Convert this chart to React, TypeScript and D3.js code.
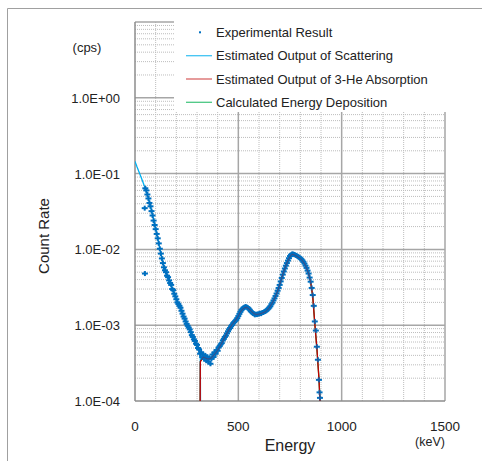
import React from "react";
import * as d3 from "d3";

// ---------- data ----------
const expEnergy: number[] = [
  47, 48, 50, 55, 60, 65, 70, 75, 80, 85, 90, 95, 100, 105, 110, 115, 120, 125, 130, 135,
  140, 145, 150, 155, 160, 165, 170, 175, 180, 185, 190, 195, 200, 205, 210, 215, 220, 225,
  230, 235, 240, 245, 250, 255, 260, 265, 270, 275, 280, 285, 290, 295, 300, 305, 310, 315,
  320, 325, 330, 335, 340, 345, 350, 355, 360, 365, 370, 375, 380, 385, 390, 395, 400, 405,
  410, 415, 420, 425, 430, 435, 440, 445, 450, 455, 460, 465, 470, 475, 480, 485, 490, 495,
  500, 505, 510, 515, 520, 525, 530, 535, 540, 545, 550, 555, 560, 565, 570, 575, 580, 585,
  590, 595, 600, 605, 610, 615, 620, 625, 630, 635, 640, 645, 650, 655, 660, 665, 670, 675,
  680, 685, 690, 695, 700, 705, 710, 715, 720, 725, 730, 735, 740, 745, 750, 755, 760, 765,
  770, 775, 780, 785, 790, 795, 800, 805, 810, 815, 820, 825, 830, 835, 840, 845, 850, 855,
  860, 865, 870, 875, 880, 885, 890, 893, 895,
];
const expRate: number[] = [
  0.035, 0.0048, 0.064, 0.06, 0.053, 0.047, 0.041, 0.037, 0.032, 0.028, 0.024, 0.021, 0.0185,
  0.016, 0.014, 0.012, 0.0102, 0.0088, 0.0076, 0.0066, 0.0058, 0.0053, 0.005, 0.0045, 0.0043,
  0.0039, 0.0036, 0.0034, 0.003, 0.0029, 0.0026, 0.0024, 0.0022, 0.002, 0.0019, 0.0018,
  0.0017, 0.00155, 0.00142, 0.0013, 0.00122, 0.00112, 0.00104, 0.00098, 0.00093, 0.00088,
  0.00081, 0.00074, 0.0007, 0.00065, 0.00062, 0.00057, 0.00055, 0.0005, 0.00048, 0.00042,
  0.00044, 0.00038, 0.00041, 0.00036, 0.0004, 0.00034, 0.00038, 0.00033, 0.00037, 0.00031,
  0.00036, 0.00041, 0.00038, 0.00044, 0.00042, 0.00047, 0.00046, 0.00051, 0.00053, 0.00056,
  0.00058, 0.00063, 0.00066, 0.0007, 0.00073, 0.00078, 0.00083, 0.00088, 0.00092, 0.00097,
  0.00101, 0.00106, 0.0011, 0.00114, 0.00118, 0.00124, 0.00132, 0.00141, 0.0015, 0.00158,
  0.00164, 0.0017, 0.00173, 0.00176, 0.00174, 0.00171, 0.00166, 0.0016, 0.00153, 0.00149,
  0.00144, 0.00141, 0.00137, 0.0014, 0.00138, 0.00141, 0.0014, 0.00144, 0.00142, 0.00146,
  0.00147, 0.0015, 0.00152, 0.00155, 0.0016, 0.00165, 0.00171, 0.00178, 0.00189, 0.00198,
  0.00212, 0.00226, 0.00243, 0.00262, 0.00285, 0.0031, 0.0034, 0.00378, 0.0042, 0.00465,
  0.00512, 0.0056, 0.0061, 0.0066, 0.00712, 0.00765, 0.00815, 0.0085, 0.0087, 0.00868,
  0.00858, 0.00845, 0.00832, 0.00818, 0.008, 0.00785, 0.00765, 0.00742, 0.00715, 0.00685,
  0.0065, 0.0061, 0.0057, 0.00525, 0.0048, 0.00425, 0.00375, 0.0031, 0.0025, 0.0018, 0.00112,
  0.00085, 0.00052, 0.00035, 0.00019, 0.00013, 0.00011,
];

const scatEnergy: number[] = [
  0, 10, 20, 30, 40, 50, 60, 70, 80, 90, 100, 110, 120, 130, 140, 150, 160, 170, 180, 190,
  200, 210, 220, 230, 240, 250, 260, 270, 280, 290, 300, 310, 316, 320,
];
const scatRate: number[] = [
  0.145, 0.122, 0.104, 0.089, 0.075, 0.063, 0.052, 0.042, 0.033, 0.025, 0.019, 0.014, 0.0103,
  0.0077, 0.006, 0.0049, 0.0042, 0.0036, 0.0031, 0.0026, 0.0022, 0.0019, 0.0017, 0.00145,
  0.00125, 0.00108, 0.00095, 0.00082, 0.0007, 0.00062, 0.00055, 0.00049, 0.00042, 0.000001,
];

const absEnergy: number[] = [
  313, 316, 330, 340, 350, 360, 370, 380, 390, 400, 410, 420, 430, 440, 450, 460, 470, 480,
  490, 500, 510, 520, 530, 540, 550, 560, 570, 580, 590, 600, 610, 620, 630, 640, 650, 660,
  670, 680, 690, 700, 710, 720, 730, 740, 750, 760, 770, 780, 790, 800, 810, 820, 830, 840,
  850, 860, 870, 880, 890, 896, 900,
];
const absRate: number[] = [
  0.000001, 0.00033, 0.00038, 0.00037, 0.00036, 0.00036, 0.00037, 0.0004, 0.00043, 0.00047,
  0.00052, 0.00058, 0.00066, 0.00074, 0.00083, 0.00093, 0.00102, 0.0011, 0.0012, 0.00132,
  0.0015, 0.00163, 0.0017, 0.00172, 0.00166, 0.00155, 0.00146, 0.0014, 0.00139, 0.0014,
  0.00143, 0.00146, 0.0015, 0.00158, 0.0017, 0.00188, 0.0021, 0.0024, 0.0028, 0.0034, 0.0042,
  0.0051, 0.0061, 0.0071, 0.0081, 0.0086, 0.0085, 0.0082, 0.0079, 0.0076, 0.0071, 0.0065,
  0.0057, 0.0048, 0.0037, 0.0024, 0.00105, 0.0005, 0.0002, 0.00009, 0.000001,
];

// calculated energy deposition: hidden under the absorption curve in the reference
const depEnergy: number[] = absEnergy;
const depRate: number[] = absRate;

const xTicks: number[] = [0, 500, 1000, 1500];
const yTicks: number[] = [1e-4, 1e-3, 1e-2, 1e-1, 1e0];
const yTickLabels: string[] = ["1.0E-04", "1.0E-03", "1.0E-02", "1.0E-01", "1.0E+00"];
const legendLabels: string[] = [
  "Experimental Result",
  "Estimated Output of Scattering",
  "Estimated Output of 3-He Absorption",
  "Calculated Energy Deposition",
];

// ---------- layout ----------
const W = 482;
const H = 461;
const L = 135;
const R = 445;
const T = 22;
const B = 401;
const FONT = "'Liberation Sans', Arial, sans-serif";
const C_EXP = "#0070C0";
const C_SCAT = "#00B0F0";
const C_ABS = "#C00000";
const C_DEP = "#00B050";
const GRID_MAJOR = "#a6a6a6";
const GRID_MINOR = "#bdbdbd";

export default function App() {
  const x = d3.scaleLinear().domain([0, 1500]).range([L, R]);
  const y = d3.scaleLog().domain([1e-4, 10]).range([B, T]);

  const line = d3
    .line<[number, number]>()
    .x((d) => x(d[0]))
    .y((d) => y(d[1]));

  const zip = (a: number[], b: number[]) => a.map((v, i) => [v, b[i]] as [number, number]);

  const minorY: number[] = [];
  for (let e = -4; e <= 0; e++) for (let k = 2; k <= 9; k++) minorY.push(k * Math.pow(10, e));
  const majorY = [1e-3, 1e-2, 1e-1, 1e0, 1e1];
  const minorX = d3.range(100, 1500, 100).filter((v) => v % 500 !== 0);
  const majorX = [500, 1000, 1500];

  const legendY = [32.3, 55.7, 79, 102.3];

  return (
    <svg
      width={W}
      height={H}
      style={{ position: "absolute", left: 0, top: 0, background: "#fff" }}
      fontFamily={FONT}
    >
      <defs>
        <clipPath id="plotClip">
          <rect x={L} y={T} width={R - L} height={B - T} />
        </clipPath>
      </defs>
      <rect width={W} height={H} fill="#fff" />
      {/* outer frame */}
      <line x1={7.5} x2={W} y1={8.5} y2={8.5} stroke="#a0a0a0" strokeWidth={1} />
      <line x1={7.5} x2={7.5} y1={8.5} y2={H} stroke="#a0a0a0" strokeWidth={1} />

      {/* minor grid */}
      {minorY.map((v) => (
        <line key={"my" + v} x1={L} x2={R} y1={y(v)} y2={y(v)} stroke={GRID_MINOR} strokeWidth={1} strokeDasharray="1,1" />
      ))}
      {minorX.map((v) => (
        <line key={"mx" + v} x1={x(v)} x2={x(v)} y1={T} y2={B} stroke={GRID_MINOR} strokeWidth={1} strokeDasharray="1,1" />
      ))}
      {/* major grid */}
      {majorY.map((v) => (
        <line key={"My" + v} x1={L} x2={R} y1={y(v)} y2={y(v)} stroke={GRID_MAJOR} strokeWidth={1.5} />
      ))}
      {majorX.map((v) => (
        <line key={"Mx" + v} x1={x(v)} x2={x(v)} y1={T} y2={B} stroke={GRID_MAJOR} strokeWidth={1.5} />
      ))}
      {/* axes */}
      <line x1={L} x2={L} y1={T} y2={B} stroke="#8c8c8c" strokeWidth={1.5} />
      <line x1={L} x2={R} y1={B} y2={B} stroke="#8c8c8c" strokeWidth={1.5} />

      {/* series */}
      <g clipPath="url(#plotClip)">
        <path d={line(zip(depEnergy, depRate)) || ""} fill="none" stroke={C_DEP} strokeWidth={1.3} />
        <path d={line(zip(scatEnergy, scatRate)) || ""} fill="none" stroke={C_SCAT} strokeWidth={1.3} />
        <path d={line(zip(absEnergy, absRate)) || ""} fill="none" stroke={C_ABS} strokeWidth={1.3} />
        {expEnergy.map((e, i) => {
          const px = x(e);
          const py = y(expRate[i]);
          return (
            <g key={"p" + i} stroke={C_EXP} strokeWidth={2}>
              <line x1={px - 3} x2={px + 3} y1={py} y2={py} />
              <line x1={px} x2={px} y1={py - 2.5} y2={py + 2.5} />
            </g>
          );
        })}
        {/* absorption curve drawn again faintly where it shows between markers */}
        <path d={line(zip(absEnergy, absRate)) || ""} fill="none" stroke={C_ABS} strokeWidth={1} opacity={0.35} />
      </g>

      {/* legend */}
      <rect x={174} y={T - 1} width={274} height={91} fill="#fff" />
      <rect x={199} y={legendY[0] - 1} width={2} height={2} fill={C_EXP} />
      <line x1={186} x2={212} y1={legendY[1]} y2={legendY[1]} stroke={C_SCAT} strokeWidth={1.3} opacity={0.75} />
      <line x1={186} x2={212} y1={legendY[2]} y2={legendY[2]} stroke={C_ABS} strokeWidth={1.3} opacity={0.6} />
      <line x1={186} x2={212} y1={legendY[3]} y2={legendY[3]} stroke={C_DEP} strokeWidth={1.3} opacity={0.7} />
      {legendLabels.map((t, i) => (
        <text key={t} x={216} y={legendY[i] + 4.6} fontSize={13} fill="#222">
          {t}
        </text>
      ))}

      {/* y ticks */}
      {yTicks.map((v, i) => (
        <text key={"yt" + v} x={120} y={y(v) + 5} fontSize={13} textAnchor="end" fill="#222">
          {yTickLabels[i]}
        </text>
      ))}
      <text x={87} y={51.5} fontSize={13} textAnchor="middle" fill="#222">
        (cps)
      </text>
      <text
        transform="translate(44,236) rotate(-90)"
        fontSize={15}
        textAnchor="middle"
        dy="0.35em"
        fill="#222"
      >
        Count Rate
      </text>

      {/* x ticks */}
      {xTicks.map((v) => (
        <text key={"xt" + v} x={x(v)} y={430.5} fontSize={13.5} textAnchor="middle" fill="#222">
          {v}
        </text>
      ))}
      <text x={290} y={451} fontSize={16} textAnchor="middle" fill="#222">
        Energy
      </text>
      <text x={430} y={446} fontSize={12.5} textAnchor="middle" fill="#222">
        (keV)
      </text>
    </svg>
  );
}
